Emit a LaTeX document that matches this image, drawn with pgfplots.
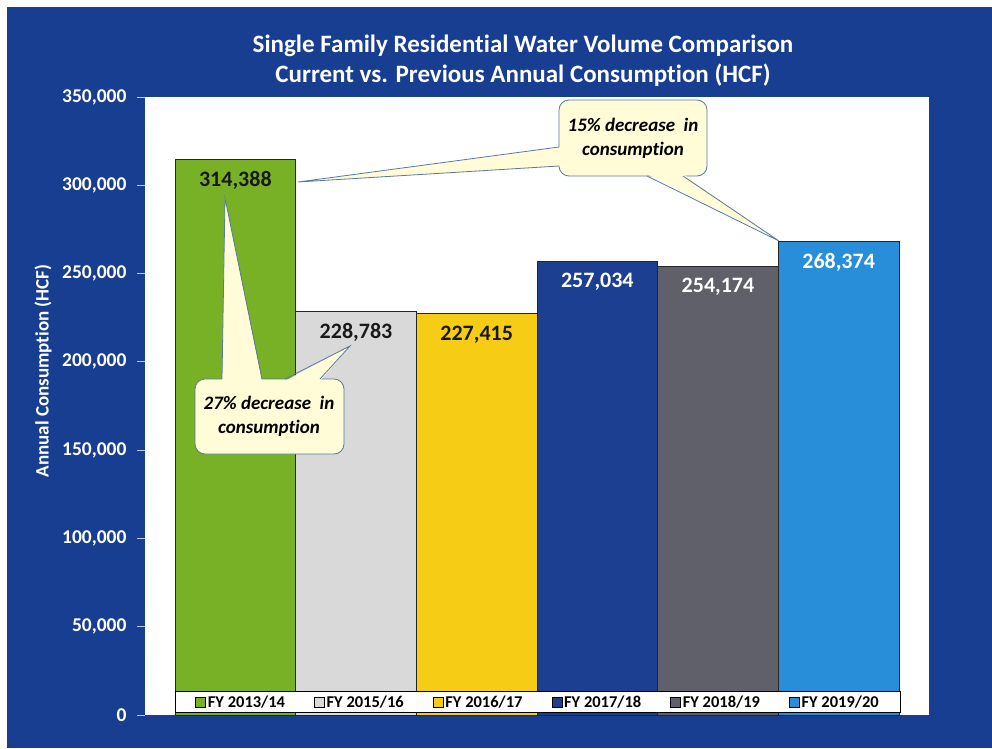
\documentclass[border=0pt]{standalone}
\usepackage{pgfplots}
\pgfplotsset{compat=1.18}
\usepackage{fontspec}
\setmainfont{Carlito}[Ligatures={NoCommon}]
\definecolor{bg}{RGB}{24,62,145}
\definecolor{c1}{RGB}{120,177,38}
\definecolor{c2}{RGB}{217,217,217}
\definecolor{c3}{RGB}{247,204,20}
\definecolor{c4}{RGB}{28,63,145}
\definecolor{c5}{RGB}{95,96,106}
\definecolor{c6}{RGB}{40,142,218}
\definecolor{callf}{RGB}{255,252,215}
\definecolor{calld}{RGB}{90,120,165}
\definecolor{tickc}{RGB}{190,195,215}
\pgfplotsset{
  mybar/.style={ybar, bar width=1, bar shift=0pt, draw=black!85, line width=0.9pt,
    legend image code/.code={\draw[##1, draw=black, line width=0.6pt] (0pt,-5pt) rectangle (10pt,5pt);}},
}
\begin{document}
\begin{tikzpicture}
\fill[white] (-145pt,-33pt) rectangle (847pt,715pt);
\fill[bg] (-138pt,-33pt) rectangle (847pt,708pt);
\begin{axis}[
  at={(0pt,0pt)}, anchor=south west,
  scale only axis, width=784pt, height=618pt,
  xmin=-0.749, xmax=5.749, ymin=0, ymax=350000,
  axis background/.style={fill=white},
  axis line style={draw=none},
  xtick=\empty,
  ytick={0,50000,100000,150000,200000,250000,300000,350000},
  ytick pos=left,
  scaled y ticks=false,
  /pgf/number format/.cd, fixed, precision=0, 1000 sep={,}, assume math mode=true,
  /pgfplots/.cd,
  yticklabel style={font=\bfseries\fontsize{19.5}{20}\selectfont, text=white, xshift=-7pt},
  tick align=outside, major tick length=8pt,
  ytick style={draw=tickc, line width=0.8pt},
  point meta=explicit symbolic,
  nodes near coords,
  every node near coord/.append style={anchor=center, yshift=-21pt, font=\bfseries\fontsize{22}{24}\selectfont},
  legend columns=6,
  legend style={at={(0.5013,0.021)}, anchor=center, draw=black, line width=0.8pt, fill=white,
    font=\bfseries\fontsize{16.5}{18}\selectfont, inner xsep=20pt,
    /tikz/every even column/.append style={column sep=27pt}},
]
\addplot[mybar, fill=c1, every node near coord/.append style={text=black!90}] coordinates {(0,314388) [314{,}388]};
\addplot[mybar, fill=c2, every node near coord/.append style={text=black!90}] coordinates {(1,228783) [228{,}783]};
\addplot[mybar, fill=c3, every node near coord/.append style={text=black!90}] coordinates {(2,227415) [227{,}415]};
\addplot[mybar, fill=c4, every node near coord/.append style={text=white}] coordinates {(3,257034) [257{,}034]};
\addplot[mybar, fill=c5, every node near coord/.append style={text=white}] coordinates {(4,254174) [254{,}174]};
\addplot[mybar, fill=c6, every node near coord/.append style={text=white}] coordinates {(5,268374) [268{,}374]};
\legend{FY 2013/14, FY 2015/16, FY 2016/17, FY 2017/18, FY 2018/19, FY 2019/20}
\end{axis}
% title
\node[font=\bfseries\fontsize{25}{30}\selectfont, text=white, align=center] at (378pt,654pt)
  {Single Family Residential Water Volume Comparison\\Current vs. Previous Annual Consumption (HCF)};
\node[rotate=90, text=white, font=\bfseries\fontsize{19}{22}\selectfont] at (-102pt,344pt) {Annual Consumption (HCF)};
% callout 1
\draw[calld, fill=callf, line width=0.8pt, rounded corners=10pt] (414pt,539pt) rectangle (562pt,615pt);
\fill[callf] (416pt,568pt) -- (153pt,533pt) -- (416pt,549pt) -- cycle;
\draw[calld, line width=0.8pt] (414pt,568pt) -- (153pt,533pt) -- (414pt,549pt);
\fill[callf] (502pt,541pt) -- (634pt,474pt) -- (538pt,541pt) -- cycle;
\draw[calld, line width=0.8pt] (502pt,539pt) -- (634pt,474pt) -- (538pt,539pt);
\node[font=\bfseries\itshape\fontsize{19}{24}\selectfont, align=center] at (488pt,577pt) {15\% decrease\ \ in\\consumption};
% callout 2
\draw[calld, fill=callf, line width=0.8pt, rounded corners=10pt] (50pt,261pt) rectangle (199pt,336pt);
\fill[callf] (77pt,334pt) -- (80pt,517pt) -- (117pt,334pt) -- cycle;
\draw[calld, line width=0.8pt] (77pt,336pt) -- (80pt,517pt) -- (117pt,336pt);
\fill[callf] (140pt,334pt) -- (205pt,369pt) -- (175pt,334pt) -- cycle;
\draw[calld, line width=0.8pt] (140pt,336pt) -- (205pt,369pt) -- (175pt,336pt);
\node[font=\bfseries\itshape\fontsize{19}{24}\selectfont, align=center] at (124pt,299pt) {27\% decrease\ \ in\\consumption};
\pgfresetboundingbox
\path[use as bounding box] (-145pt,-33pt) rectangle (847pt,715pt);
\end{tikzpicture}
\end{document}
